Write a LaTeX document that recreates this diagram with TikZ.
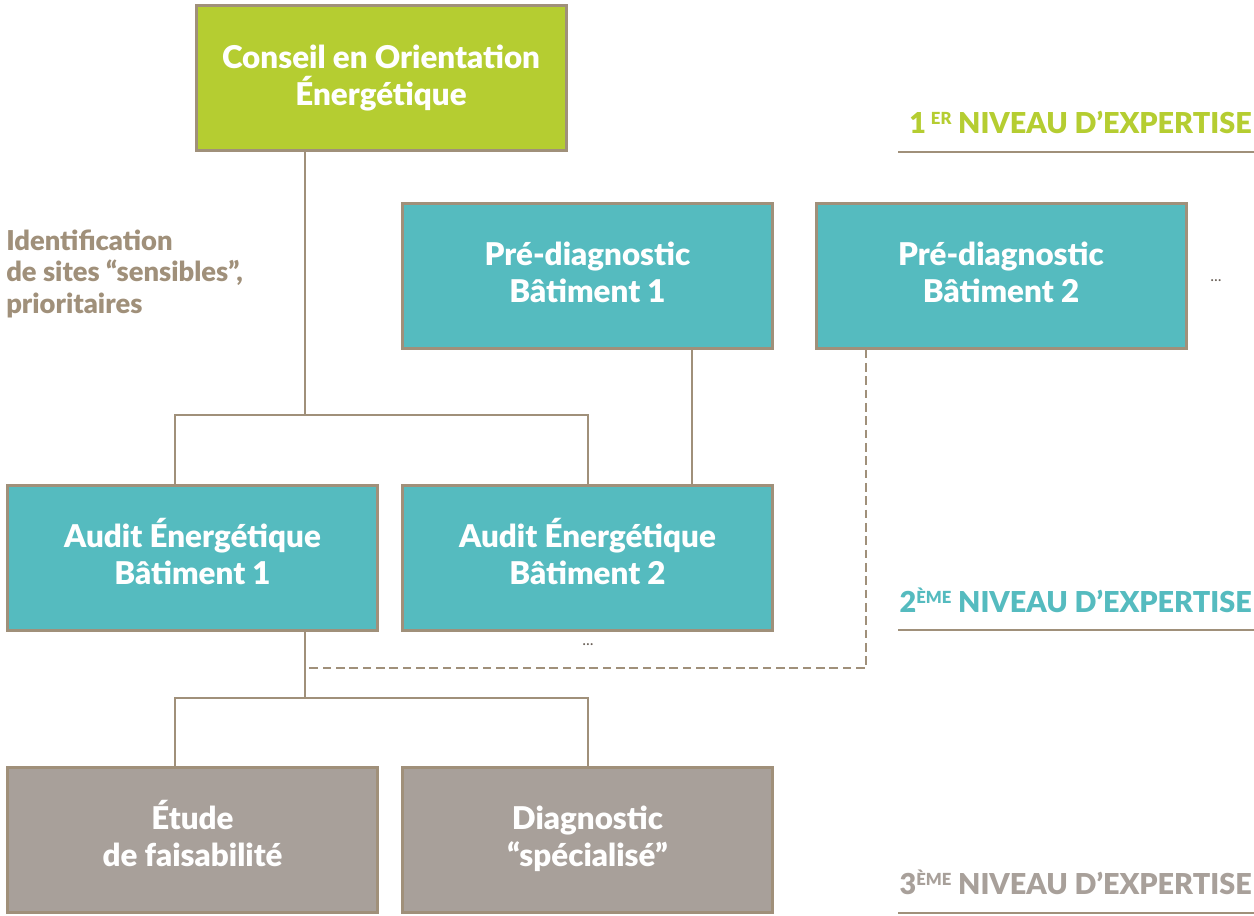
\documentclass[tikz,border=0pt]{standalone}
\usepackage{fontspec}
\setmainfont{Lato}[BoldFont={Lato Black}]
\definecolor{taupe}{HTML}{A0907A}
\definecolor{lime}{HTML}{B5CD31}
\definecolor{teal2}{HTML}{55BBBF}
\definecolor{greybox}{HTML}{A8A09A}
\definecolor{dots}{HTML}{6A6058}
\newcommand\tstr{\vphantom{É}}
\newcommand\bstr{\rule[-9pt]{0pt}{9pt}}
\begin{document}
\begin{tikzpicture}[x=0.75pt,y=-0.75pt,
  box/.style={draw=taupe,line width=2.25pt,minimum width=277.5pt,minimum height=108.75pt,
    inner sep=0pt,align=center,text=white,font=\bfseries\fontsize{23.5}{27.8}\selectfont},
  conn/.style={draw=taupe,line width=1.7pt},
  dconn/.style={draw=taupe,line width=1.7pt,dash pattern=on 6.5pt off 3.5pt},
  rule/.style={draw=taupe,line width=2.2pt},
  lvl/.style={anchor=base east,inner sep=0pt,font=\bfseries\fontsize{21.6}{23}\selectfont},
  dotsl/.style={text=dots,font=\fontsize{12}{14}\selectfont,inner sep=0pt}]
\useasboundingbox (0,0) rectangle (1254,915);
% boxes
\node[box,fill=lime] (coe) at (381,78) {\tstr Conseil en Orientation\\Énergétique\bstr};
\node[box,fill=teal2] (pd1) at (587.5,275.5) {\tstr Pré-diagnostic\\Bâtiment 1\bstr};
\node[box,fill=teal2] (pd2) at (1001,275.5) {\tstr Pré-diagnostic\\Bâtiment 2\bstr};
\node[box,fill=teal2] (a1) at (192.5,557.5) {\tstr Audit Énergétique\\Bâtiment 1\bstr};
\node[box,fill=teal2] (a2) at (587.5,557.5) {\tstr Audit Énergétique\\Bâtiment 2\bstr};
\node[box,fill=greybox] (e1) at (192.5,839.5) {\tstr Étude\\de faisabilité\bstr};
\node[box,fill=greybox] (d1) at (587.5,839.5) {\tstr Diagnostic\\“spécialisé”\bstr};
% side label
\node[anchor=base west,inner sep=0pt,align=left,text=taupe,
  font=\bfseries\fontsize{20.5}{23.5}\selectfont] (lab) at (6,313)
  {Identification\\de sites “sensibles”,\\prioritaires};
% dots
\node[dotsl] (dt1) at (1216,281) {...};
\node[dotsl] (dt2) at (588,645) {...};
% junction coordinates
\coordinate (j1) at (305,415);
\coordinate (j1l) at (175,415);
\coordinate (j1r) at (588,415);
\coordinate (j2) at (305,698);
\coordinate (j2l) at (175,698);
\coordinate (j2r) at (588,698);
\coordinate (p1) at (692,415);
\coordinate (q2) at (866,668);
\coordinate (q2e) at (308,668);
% connectors
\draw[conn] (j1 |- coe.south) -- (j1);
\draw[conn] (j1l |- a1.north) -- (j1l) -- (j1r) -- (j1r |- a2.north);
\draw[conn] (p1 |- pd1.south) -- (p1 |- a2.north);
\draw[conn] (j2 |- a1.south) -- (j2);
\draw[conn] (j2l |- e1.north) -- (j2l) -- (j2r) -- (j2r |- d1.north);
\draw[dconn] (q2 |- pd2.south) -- (q2) -- (q2e);
% level labels
\coordinate (r1a) at (898,152); \coordinate (r1b) at (1254,152);
\coordinate (r2a) at (898,630); \coordinate (r2b) at (1254,630);
\coordinate (r3a) at (898,913); \coordinate (r3b) at (1254,913);
\draw[rule] (r1a) -- (r1b);
\draw[rule] (r2a) -- (r2b);
\draw[rule] (r3a) -- (r3b);
\node[lvl,text=lime] (l1) at (1252,133) {1\,\raisebox{0.6ex}{\fontsize{12.5}{12}\selectfont ER} NIVEAU D’EXPERTISE};
\node[lvl,text=teal2] (l2) at (1252,612) {2\raisebox{0.6ex}{\fontsize{12.5}{12}\selectfont ÈME} NIVEAU D’EXPERTISE};
\node[lvl,text=greybox] (l3) at (1252,894) {3\raisebox{0.6ex}{\fontsize{12.5}{12}\selectfont ÈME} NIVEAU D’EXPERTISE};
\end{tikzpicture}
\end{document}
